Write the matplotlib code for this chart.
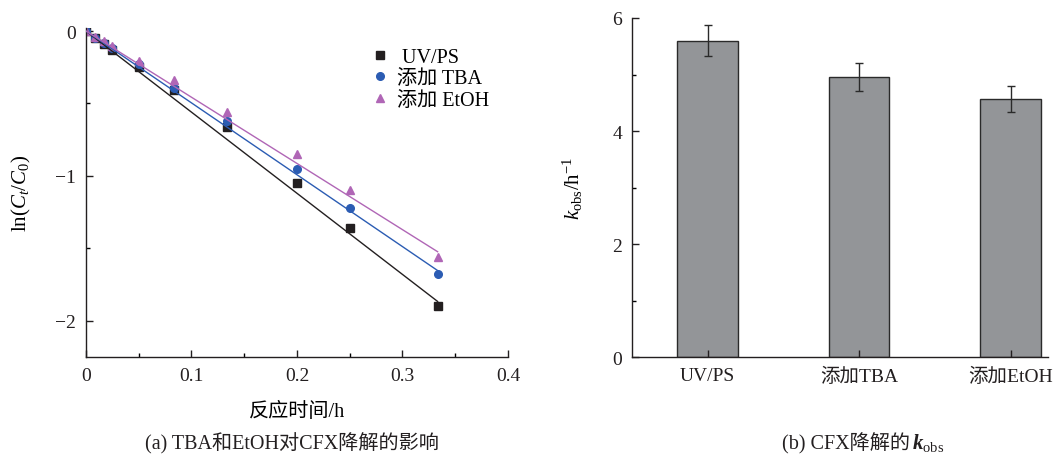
import numpy as np
import matplotlib
matplotlib.use('Agg')
import matplotlib.pyplot as plt
from matplotlib.ticker import MultipleLocator

plt.rcParams['font.family'] = ['Liberation Serif', 'Noto Sans CJK SC']
plt.rcParams['mathtext.fontset'] = 'custom'
plt.rcParams['mathtext.rm'] = 'Liberation Serif'
plt.rcParams['mathtext.it'] = 'Liberation Serif:italic'
plt.rcParams['mathtext.bf'] = 'Liberation Serif:bold:italic'

# reaction time (h)
t = [0, 0.0083, 0.0167, 0.025, 0.05, 0.0833, 0.1333, 0.2, 0.25, 0.3333]
uvps = [0, -0.05, -0.09, -0.13, -0.25, -0.41, -0.66, -1.05, -1.36, -1.90]
tba = [0, -0.05, -0.08, -0.12, -0.23, -0.39, -0.62, -0.95, -1.22, -1.68]
etoh = [0, -0.04, -0.07, -0.10, -0.21, -0.34, -0.56, -0.85, -1.10, -1.56]
labels = [' UV/PS', '添加 TBA', '添加 EtOH']

# rate constants (h^-1)
groups = ['UV/PS', '添加TBA', '添加EtOH']
kobs = [5.60, 4.96, 4.57]
kerr = [0.28, 0.25, 0.23]

colors = ['#231f20', '#2b5cb3', '#b066b6']
markers = ['s', 'o', '^']

fig = plt.figure(figsize=(10.55, 4.6), dpi=100)

# (a) kinetics
ax = fig.add_axes([0.0815, 0.2217, 0.400, 0.715])
tt = np.array([0, t[-1]])
for y, k, c, m, lab in zip([uvps, tba, etoh], kobs, colors, markers, labels):
    ax.plot(t, y, ls='none', marker=m, color=c, ms=5.5, label=lab, zorder=2)
    ax.plot(tt, -k * tt, color=c, lw=1.0, zorder=3)
ax.set_xlim(0, 0.4)
ax.set_ylim(-2.25, 0.02)
ax.xaxis.set_major_locator(MultipleLocator(0.1))
ax.xaxis.set_minor_locator(MultipleLocator(0.05))
ax.yaxis.set_major_locator(MultipleLocator(1))
ax.yaxis.set_minor_locator(MultipleLocator(0.5))
ax.xaxis.set_major_formatter(plt.FuncFormatter(lambda v, p: '0' if abs(v) < 1e-9 else f'{v:.1f}'))
ax.yaxis.set_major_formatter(plt.FuncFormatter(lambda v, p: '0' if abs(v) < 1e-9 else f'−{abs(v):.0f}'))
ax.set_xlabel('反应时间/h', fontsize=14.5, labelpad=13)
ax.set_ylabel(r'ln($C_t$/$C_0$)', fontsize=15, labelpad=16)
leg = ax.legend(loc='upper right', bbox_to_anchor=(0.975, 0.965), frameon=False,
                fontsize=14.5, handletextpad=0.35, labelspacing=0.12, handlelength=1.0,
                borderaxespad=0)

# (b) kobs bars
bx = fig.add_axes([0.599, 0.2217, 0.394, 0.737])
x = np.arange(len(groups))
bx.bar(x, kobs, width=0.40, color='#939598', edgecolor='#2a2a2a', linewidth=1.0,
       yerr=kerr, capsize=2.6, error_kw=dict(ecolor='#2a2a2a', elinewidth=1.0, capthick=1.0))
bx.set_xlim(-0.5, 2.244)
bx.set_ylim(0, 6)
bx.set_xticks(x)
bx.set_xticklabels(groups)
bx.yaxis.set_major_locator(MultipleLocator(2))
bx.yaxis.set_minor_locator(MultipleLocator(1))
bx.set_ylabel(r'$k_{\mathrm{obs}}$/h$^{-1}$', fontsize=15, labelpad=20)

for a in (ax, bx):
    a.spines['top'].set_visible(False)
    a.spines['right'].set_visible(False)
    for s in a.spines.values():
        s.set_linewidth(1.0)
        s.set_color('#231f20')
    a.tick_params(which='major', direction='in', length=5, width=1.0, labelsize=14,
                  colors='#231f20', pad=7)
    a.tick_params(which='minor', direction='in', length=3, width=1.0)

fig.text(0.277, 0.036, '(a) TBA和EtOH对CFX降解的影响', ha='center', va='center',
         fontsize=14.5, color='#231f20')
fig.text(0.863, 0.036, '(b) CFX降解的', ha='right', va='center',
         fontsize=14.5, color='#231f20')
fig.text(0.864, 0.036, r'$\mathbf{k}_{\mathrm{obs}}$', ha='left', va='center',
         fontsize=15, color='#231f20')

fig.savefig('out.png', dpi=100)
